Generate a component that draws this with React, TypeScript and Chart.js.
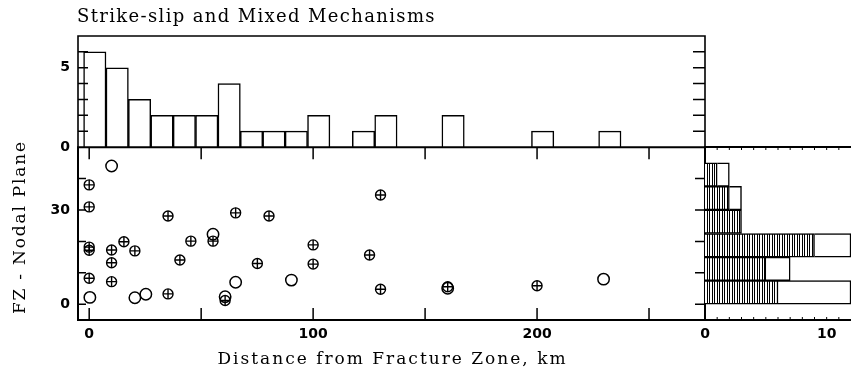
import React, { useEffect, useRef } from 'react';
import { Chart, registerables } from 'chart.js';

Chart.register(...registerables);

// ---------- text ----------
const CHART_TITLE = 'Strike-slip and Mixed Mechanisms';
const X_TITLE = 'Distance from Fracture Zone, km';
const Y_TITLE = 'FZ - Nodal Plane';

// ---------- top histogram: distance from fracture zone (10 km bins) ----------
const distBinCenters = [2.5, 12.5, 22.5, 32.5, 42.5, 52.5, 62.5, 72.5, 82.5, 92.5, 102.5, 112.5,
  122.5, 132.5, 142.5, 152.5, 162.5, 172.5, 182.5, 192.5, 202.5, 212.5, 222.5, 232.5];
const distBinCounts = [6, 5, 3, 2, 2, 2, 4, 1, 1, 1, 2, 0, 1, 2, 0, 0, 2, 0, 0, 0, 1, 0, 0, 1];

// ---------- scatter: circle-with-cross mechanisms ----------
const crossDist = [0, 0, 0, 0, 0, 10, 10, 10, 15.5, 20.4, 35.2, 35.2, 40.5, 45.4, 55.3, 60.7, 65.4,
  75.1, 80.3, 100, 100, 125.2, 130.1, 130.1, 160.1, 200];
const crossAngle = [38, 31, 18.2, 17.2, 8.3, 17.3, 13.2, 7.2, 19.9, 17, 28.1, 3.3, 14.1, 20.1, 20.1,
  1.2, 29.1, 13, 28.1, 18.9, 12.8, 15.7, 34.8, 4.8, 5.6, 5.9];

// ---------- scatter: open-circle mechanisms ----------
const openDist = [10, 0.3, 20.4, 25.3, 55.3, 60.7, 65.4, 90.3, 160.1, 229.7];
const openAngle = [44, 2.2, 2.1, 3.2, 22.3, 2.4, 7, 7.7, 5.1, 8];

// ---------- right histogram: FZ - nodal plane (7.5 degree bins) ----------
const angleBinCenters = [3.75, 11.25, 18.75, 26.25, 33.75, 41.25];
const angleCrossCounts = [6, 5, 9, 3, 2, 1];
const angleTotalCounts = [12, 7, 12, 3, 3, 2];

// ---------- tick labels ----------
const distTickLabels = [0, 100, 200];
const angleTickLabels = [0, 30];
const countTickLabels = [0, 5];
const sideCountTickLabels = [0, 10];

const SERIF = '"DejaVu Serif", serif';
const TICK_FONT = { family: '"DejaVu Sans", sans-serif', size: 14, weight: 'bold' as const };

function labelCb(list: number[]) {
  return (v: any) => (list.includes(Number(v)) ? String(v) : '');
}

function fixSize(w?: number, h?: number) {
  return (s: any) => {
    if (w !== undefined) s.width = w;
    if (h !== undefined) s.height = h;
    s.paddingTop = 0;
    s.paddingBottom = 0;
    s.paddingLeft = 0;
    s.paddingRight = 0;
  };
}

function spacedText(ctx: CanvasRenderingContext2D, text: string, x: number, y: number,
  font: string, spacing: number, align: 'left' | 'center', rotation = 0) {
  ctx.save();
  ctx.font = font;
  (ctx as any).letterSpacing = spacing + 'px';
  ctx.fillStyle = '#000';
  ctx.textBaseline = 'middle';
  ctx.textAlign = 'left';
  ctx.translate(x, y);
  ctx.rotate(rotation);
  const w = ctx.measureText(text).width - spacing;
  ctx.fillText(text, align === 'center' ? -w / 2 : 0, 0);
  ctx.restore();
}

type Decor = {
  frame: { top?: boolean; bottom?: boolean; left?: boolean; right?: boolean };
  frameWidth: number;
  tickWidth: number;
  xTickTop?: number;
  xTickBottom?: number;
  yTickLeft?: number;
  yTickRight?: number;
  extra?: (chart: any) => void;
};

function decor(id: string, d: Decor) {
  return {
    id,
    afterDraw(chart: any) {
      const { ctx, chartArea: a } = chart;
      const xs = chart.scales.x;
      const ys = chart.scales.y;
      ctx.save();
      ctx.strokeStyle = '#000';
      ctx.lineCap = 'butt';
      ctx.lineWidth = d.tickWidth;
      ctx.beginPath();
      if (d.xTickTop || d.xTickBottom) {
        for (const t of xs.ticks) {
          const p = xs.getPixelForValue(t.value);
          if (p < a.left + 2 || p > a.right - 2) continue;
          if (d.xTickTop) { ctx.moveTo(p, a.top); ctx.lineTo(p, a.top + d.xTickTop); }
          if (d.xTickBottom) { ctx.moveTo(p, a.bottom); ctx.lineTo(p, a.bottom - d.xTickBottom); }
        }
      }
      if (d.yTickLeft || d.yTickRight) {
        for (const t of ys.ticks) {
          const p = ys.getPixelForValue(t.value);
          if (p < a.top + 2 || p > a.bottom - 2) continue;
          if (d.yTickLeft) { ctx.moveTo(a.left, p); ctx.lineTo(a.left + d.yTickLeft, p); }
          if (d.yTickRight) { ctx.moveTo(a.right, p); ctx.lineTo(a.right - d.yTickRight, p); }
        }
      }
      ctx.stroke();
      ctx.lineWidth = d.frameWidth;
      ctx.lineCap = 'square';
      ctx.beginPath();
      if (d.frame.top) { ctx.moveTo(a.left, a.top); ctx.lineTo(a.right, a.top); }
      if (d.frame.bottom) { ctx.moveTo(a.left, a.bottom); ctx.lineTo(a.right, a.bottom); }
      if (d.frame.left) { ctx.moveTo(a.left, a.top); ctx.lineTo(a.left, a.bottom); }
      if (d.frame.right) { ctx.moveTo(a.right, a.top); ctx.lineTo(a.right, a.bottom); }
      ctx.stroke();
      ctx.restore();
      if (d.extra) d.extra(chart);
    },
  };
}

const hiddenGrid = { display: false, drawTicks: false };

export default function App() {
  const topRef = useRef<HTMLCanvasElement>(null);
  const mainRef = useRef<HTMLCanvasElement>(null);
  const sideRef = useRef<HTMLCanvasElement>(null);

  useEffect(() => {
    document.body.style.margin = '0';
    const charts: Chart[] = [];

    // ---- top histogram ----
    charts.push(new Chart(topRef.current!, {
      type: 'bar',
      data: {
        datasets: [{
          data: distBinCenters.map((x, i) => ({ x, y: distBinCounts[i] })),
          backgroundColor: '#fff',
          borderColor: '#000',
          borderWidth: 1.5,
          borderSkipped: 'start',
          barPercentage: 1,
          categoryPercentage: 1,
        } as any],
      },
      options: {
        responsive: false,
        animation: false,
        events: [],
        layout: { padding: { left: 0, right: 8, top: 36, bottom: 5 } },
        plugins: { legend: { display: false }, tooltip: { enabled: false } },
        scales: {
          x: {
            type: 'linear', min: -5, max: 275, display: false, offset: false,
            grid: { offset: false } as any,
            ticks: { stepSize: 50, includeBounds: false, display: false } as any,
            afterFit: fixSize(undefined, 0),
          },
          y: {
            type: 'linear', min: 0, max: 7,
            grid: hiddenGrid as any,
            border: { display: false },
            ticks: {
              stepSize: 1, includeBounds: false, autoSkip: false, padding: 8,
              font: TICK_FONT, color: '#000', callback: labelCb(countTickLabels),
            } as any,
            afterFit: fixSize(78),
          },
        },
      },
      plugins: [decor('decorTop', {
        frame: { top: true, left: true, right: true },
        frameWidth: 1.6,
        tickWidth: 1.5,
        yTickLeft: 10,
        yTickRight: 12,
        extra: (chart) => {
          spacedText(chart.ctx, CHART_TITLE, chart.chartArea.left - 1, 17, `18px ${SERIF}`, 1.35, 'left');
        },
      })],
    }));

    // ---- main scatter ----
    const crossPts = crossDist.map((x, i) => ({ x, y: crossAngle[i] }));
    const openPts = openDist.map((x, i) => ({ x, y: openAngle[i] }));
    charts.push(new Chart(mainRef.current!, {
      type: 'scatter',
      data: {
        datasets: [
          { data: crossPts, pointStyle: 'circle', pointRadius: 5, borderWidth: 1.4, borderColor: '#000', backgroundColor: 'rgba(0,0,0,0)' },
          { data: crossPts, pointStyle: 'cross', pointRadius: 5, borderWidth: 1.4, borderColor: '#000', backgroundColor: 'rgba(0,0,0,0)' },
          { data: openPts, pointStyle: 'circle', pointRadius: 5.7, borderWidth: 1.5, borderColor: '#000', backgroundColor: 'rgba(0,0,0,0)' },
        ] as any,
      },
      options: {
        responsive: false,
        animation: false,
        events: [],
        layout: { padding: { left: 0, right: 8, top: 7, bottom: 0 } },
        plugins: { legend: { display: false }, tooltip: { enabled: false } },
        scales: {
          x: {
            type: 'linear', min: -5, max: 275,
            grid: hiddenGrid as any,
            border: { display: false },
            ticks: {
              stepSize: 50, includeBounds: false, autoSkip: false, maxRotation: 0, minRotation: 0,
              padding: 6, font: TICK_FONT, color: '#000', callback: labelCb(distTickLabels),
            } as any,
            afterFit: fixSize(undefined, 53),
          },
          y: {
            type: 'linear', min: -5, max: 50,
            grid: hiddenGrid as any,
            border: { display: false },
            ticks: {
              stepSize: 10, includeBounds: false, autoSkip: false, padding: 8,
              font: TICK_FONT, color: '#000', callback: labelCb(angleTickLabels),
            } as any,
            afterFit: fixSize(78),
          },
        },
      },
      plugins: [decor('decorMain', {
        frame: { top: true, bottom: true, left: true, right: true },
        frameWidth: 2,
        tickWidth: 1.5,
        xTickTop: 12,
        xTickBottom: 12,
        yTickLeft: 8,
        yTickRight: 10,
        extra: (chart) => {
          const a = chart.chartArea;
          spacedText(chart.ctx, X_TITLE, (a.left + a.right) / 2, 220, `17px ${SERIF}`, 2, 'center');
          spacedText(chart.ctx, Y_TITLE, 21, 88, `17px ${SERIF}`, 1.8, 'center', -Math.PI / 2);
        },
      })],
    }));

    // ---- right histogram ----
    const pc = document.createElement('canvas');
    pc.width = 5; pc.height = 4;
    const g = pc.getContext('2d')!;
    g.fillStyle = '#fff'; g.fillRect(0, 0, 5, 4);
    g.fillStyle = '#000'; g.fillRect(0, 0, 1, 4); g.fillRect(2, 0, 1, 4);
    const hatch = sideRef.current!.getContext('2d')!.createPattern(pc, 'repeat')!;

    charts.push(new Chart(sideRef.current!, {
      type: 'bar',
      data: {
        datasets: [
          {
            data: angleBinCenters.map((y, i) => ({ y, x: angleCrossCounts[i] })),
            backgroundColor: hatch, borderColor: '#000', borderWidth: 1.5, borderSkipped: 'start',
            barPercentage: 1, categoryPercentage: 1,
          },
          {
            data: angleBinCenters.map((y, i) => ({ y, x: angleTotalCounts[i] - angleCrossCounts[i] })),
            backgroundColor: '#fff', borderColor: '#000', borderWidth: 1.5, borderSkipped: 'start',
            barPercentage: 1, categoryPercentage: 1,
          },
        ] as any,
      },
      options: {
        indexAxis: 'y',
        responsive: false,
        animation: false,
        events: [],
        layout: { padding: { left: 8, right: 0, top: 7, bottom: 0 } },
        plugins: { legend: { display: false }, tooltip: { enabled: false } },
        scales: {
          x: {
            type: 'linear', min: 0, max: 12, stacked: true,
            grid: hiddenGrid as any,
            border: { display: false },
            ticks: {
              stepSize: 1, includeBounds: false, autoSkip: false, maxRotation: 0, minRotation: 0,
              padding: 6, font: TICK_FONT, color: '#000', callback: labelCb(sideCountTickLabels),
            } as any,
            afterFit: fixSize(undefined, 53),
          },
          y: {
            type: 'linear', min: -5, max: 50, stacked: true, display: false, offset: false,
            grid: { offset: false } as any,
            ticks: { stepSize: 10, includeBounds: false, display: false } as any,
            afterFit: fixSize(0),
          },
        },
      } as any,
      plugins: [decor('decorSide', {
        frame: { top: true, bottom: true },
        frameWidth: 2,
        tickWidth: 1,
        xTickTop: 3,
        xTickBottom: 3,
      })],
    }));

    return () => charts.forEach((c) => c.destroy());
  }, []);

  return (
    <div style={{ position: 'absolute', left: 0, top: 0, width: 851, height: 373, background: '#fff', overflow: 'hidden' }}>
      <canvas ref={topRef} width={713} height={152} style={{ position: 'absolute', left: 0, top: 0 }} />
      <canvas ref={mainRef} width={713} height={233} style={{ position: 'absolute', left: 0, top: 140 }} />
      <canvas ref={sideRef} width={154} height={233} style={{ position: 'absolute', left: 697, top: 140 }} />
    </div>
  );
}
